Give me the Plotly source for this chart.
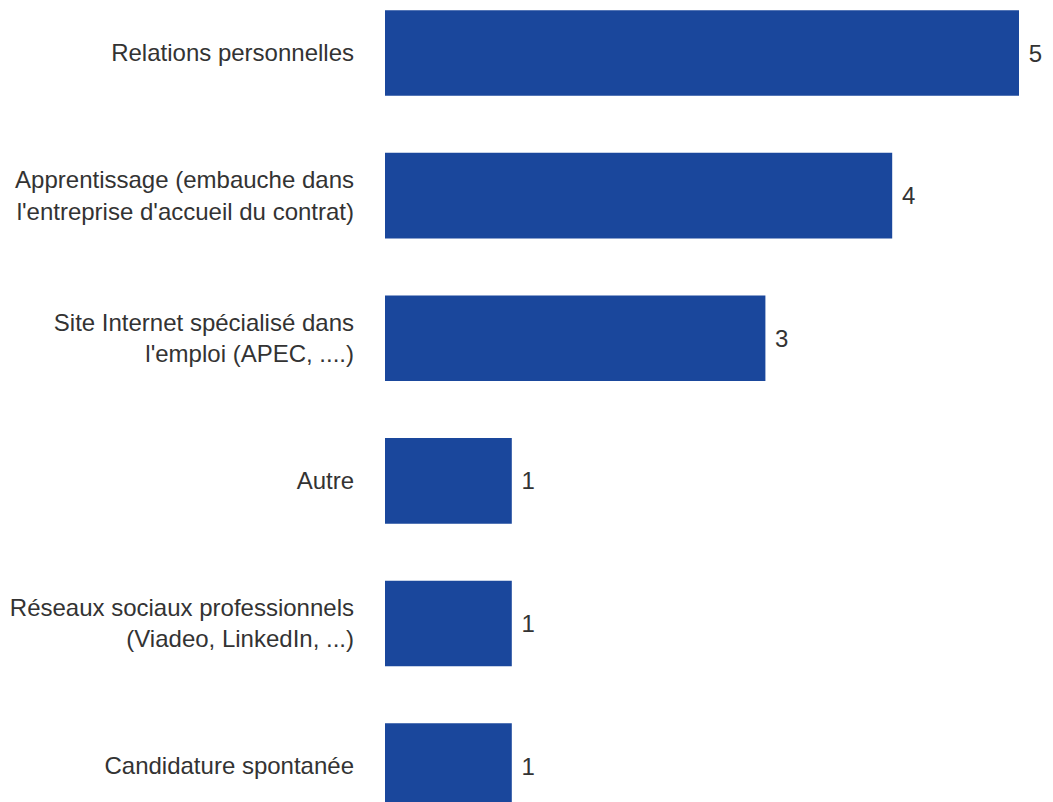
import plotly.graph_objects as go

categories = [
    "Relations personnelles",
    "Apprentissage (embauche dans<br>l'entreprise d'accueil du contrat)",
    "Site Internet spécialisé dans<br>l'emploi (APEC, ....)",
    "Autre",
    "Réseaux sociaux professionnels<br>(Viadeo, LinkedIn, ...)",
    "Candidature spontanée",
]
values = [5, 4, 3, 1, 1, 1]

FONT = "Liberation Sans, Arial, sans-serif"

fig = go.Figure(go.Bar(
    x=values, y=categories, orientation="h",
    marker=dict(color="#1a479c", line=dict(width=0)),
    width=0.6,
    texttemplate="\u00a0%{x}", textposition="outside",
    textfont=dict(family=FONT, size=24, color="#333333"),
    cliponaxis=False,
))

fig.update_layout(
    width=1053, height=802,
    margin=dict(l=377, r=42, t=0, b=0, autoexpand=False),
    plot_bgcolor="white", paper_bgcolor="white",
    font=dict(family=FONT, size=24, color="#333333"),
    showlegend=False,
    xaxis=dict(range=[0, 5], visible=False, showgrid=False, zeroline=False),
    yaxis=dict(
        categoryorder="array", categoryarray=categories,
        range=[5.308, -0.3156], showgrid=False, zeroline=False, showline=False,
        ticks="", ticklabelstandoff=30, automargin=False,
    ),
)

fig.write_html("out.html")
